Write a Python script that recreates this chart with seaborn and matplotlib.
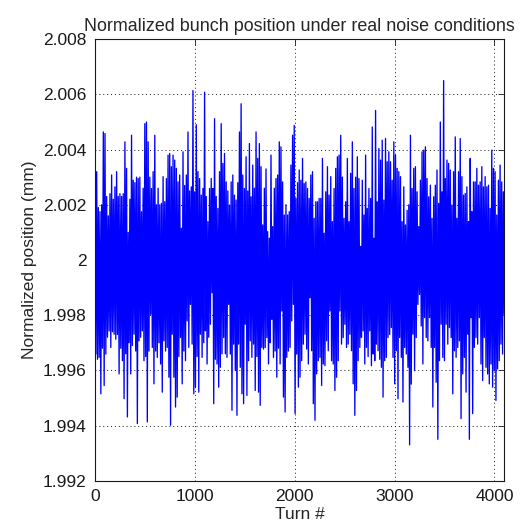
import numpy as np
import pandas as pd
import matplotlib
matplotlib.use("Agg")
import matplotlib.pyplot as plt
import seaborn as sns

# envelope of the trace, offsets from 2 mm in micrometres
# (one upper and one lower reading every ~16.6 turns)
upper_um = [
    # turns 0..650
    3.68, 3.2, 1.9, 1.75, 2.0, 4.64, 4.58, 2.3, 1.6, 2.4, 3.08, 2.2, 2.65, 3.2, 2.3, 2.4, 2.3, 2.4, 4.28, 3.32,
    1.0, 2.2, 4.52, 2.89, 2.8, 3.0, 2.95, 3.0, 1.75, 2.6, 4.94, 5.0, 4.28, 3.0, 2.59, 3.2, 4.52, 2.0, 2.6,
    # turns 650..1350
    2.0, 2.05, 3.02, 2.11, 2.95, 3.8, 3.86, 3.38, 3.8, 3.62, 3.32, 2.83, 3.08, 1.15, 3.92, 2.7, 3.08, 4.64, 2.5, 2.65,
    6.14, 2.47, 4.9, 3.2, 2.95, 2.35, 2.59, 6.08, 2.3, 1.39, 2.59, 2.95, 2.59, 5.12, 2.3, 1.87, 3.2, 4.94, 3.5, 3.86,
    2.83, 2.5,
    # turns 1350..2050
    1.99, 2.83, 3.08, 2.35, 2.17, 2.8, 4.64, 5.66, 3.08, 2.59, 3.74, 2.5, 4.22, 2.29, 3.44, 2.6, 4.64, 3.68, 4.22, 3.38,
    1.27, 2.6, 3.3, 1.03, 0.79, 3.8, 1.21, 2.6, 2.95, 3.08, 4.28, 4.1, 2.83, 1.63, 2.0, 1.63, 1.75, 3.44, 4.52, 4.88,
    2.23, 2.8,
    # turns 2050..2750
    3.26, 2.89, 3.68, 2.77, 2.83, 2.59, 2.23, 3.08, 3.2, 1.51, 2.11, 2.11, 2.23, 2.23, 3.68, 0.97, 2.47, 3.38, 2.35, 3.02,
    1.39, 2.59, 3.32, 3.74, 3.8, 4.52, 3.0, 1.51, 2.11, 3.68, 1.39, 3.14, 4.28, 2.59, 3.0, 3.74, 2.95, 0.49, 2.89, 1.63,
    3.8, 1.87,
    # turns 2750..3450
    2.59, 2.23, 4.82, 0.79, 5.42, 2.11, 4.04, 3.62, 4.34, 2.17, 4.4, 3.56, 3.92, 3.56, 2.89, 4.28, 3.8, 3.32, 3.2, 3.02,
    1.39, 2.65, 1.27, 1.8, 2.0, 4.52, 2.59, 3.32, 3.38, 2.47, 1.21, 2.89, 3.92, 3.98, 4.1, 2.95, 2.29, 2.71, 1.51, 2.29,
    2.71, 3.26,
    # turns 3450..4096
    2.05, 5.0, 2.47, 6.5, 2.95, 3.62, 3.5, 3.26, 1.99, 3.2, 4.46, 1.51, 3.2, 4.4, 3.02, 2.35, 2.41, 2.65, 1.39, 3.68,
    1.75, 2.83, 2.83, 3.32, 2.71, 2.83, 3.38, 2.65, 3.02, 2.65, 2.71, 1.87, 3.98, 3.32, 3.2, 1.63, 2.89, 3.44, 2.83, 2.47,
]
lower_um = [
    -3.41, -3.6, -3.53, -4.85, -3.2, -4.55, -3.41, -2.8, -2.57, -3.17, -2.6, -2.69, -2.87, -2.7, -4.13, -3.2, -3.65, -5.03, -3.4, -5.69,
    -3.0, -4.13, -3.1, -2.69, -3.3, -5.93, -2.93, -2.8, -2.57, -3.65, -3.5, -5.87, -3.3, -1.97, -3.17, -4.49, -3.3, -3.53, -3.0,
    -3.77, -4.79, -2.93, -3.3, -3.17, -4.25, -5.99, -2.69, -4.25, -5.33, -4.97, -3.5, -2.81, -4.49, -3.3, -3.65, -2.21, -3.17, -1.61, -3.05,
    -4.85, -4.61, -3.5, -4.79, -2.69, -3.53, -3.0, -2.57, -3.77, -2.8, -2.33, -1.19, -5.21, -3.6, -3.77, -4.61, -3.89, -3.4, -2.81, -3.4,
    -3.53, -1.61,
    -3.41, -5.45, -3.05, -4.01, -5.63, -3.05, -3.89, -4.85, -5.21, -2.33, -4.91, -3.65, -2.93, -3.53, -3.05, -4.73, -3.5, -4.79, -5.27, -3.17,
    -3.23, -3.17, -2.81, -3.77, -3.0, -2.15, -3.53, -3.3, -4.25, -3.2, -3.77, -1.85, -4.97, -5.51, -3.53, -3.3, -3.17, -2.21, -1.61, -5.57,
    -3.41, -4.61,
    -4.25, -3.65, -3.05, -2.69, -3.23, -3.77, -1.37, -3.29, -5.21, -5.81, -4.13, -3.65, -3.53, -4.55, -3.77, -3.83, -2.93, -3.29, -1.85, -3.65,
    -3.77, -4.73, -4.25, -3.65, -1.85, -3.05, -2.81, -2.33, -3.17, -3.05, -2.69, -3.29, -4.49, -5.63, -4.73, -3.65, -3.17, -2.81, -2.57, -3.77,
    -3.17, -3.5,
    -2.57, -3.83, -3.41, -3.65, -3.05, -3.29, -3.6, -3.89, -4.97, -3.65, -3.53, -2.81, -2.7, -2.45, -3.53, -4.49, -3.29, -5.03, -2.81, -3.53,
    -5.15, -3.17, -3.41, -3.89, -6.7, -4.5, -2.69, -4.01, -2.81, -1.61, -1.25, -2.39, -3.77, -2.09, -2.81, -2.93, -2.09, -3.17, -5.33, -3.17,
    -4.43, -6.5,
    -3.65, -2.33, -3.53, -3.65, -2.33, -3.05, -2.45, -2.81, -4.85, -3.29, -3.53, -3.17, -2.93, -5.75, -4.13, -3.53, -4.79, -2.69, -6.5, -2.09,
    -5.57, -3.17, -2.81, -3.05, -2.09, -3.77, -4.37, -2.81, -3.89, -4.13, -4.49, -3.77, -4.61, -4.01, -5.09, -3.95, -3.65, -3.05, -3.41, -1.97,
]
n_turns = 4096
ytick_vals = [1.992, 1.994, 1.996, 1.998, 2.0, 2.002, 2.004, 2.006, 2.008]
ytick_labels = ["1.992", "1.994", "1.996", "1.998", "2", "2.002", "2.004", "2.006", "2.008"]
xtick_vals = [0, 1000, 2000, 3000, 4000]

# samples: each reading slot gives a high then a low sample
turn = np.linspace(0, n_turns - 6, len(upper_um))
half = (turn[1] - turn[0]) / 2
df = pd.DataFrame({
    "turn": np.column_stack([turn, turn + half]).ravel(),
    "pos": 2.0 + 1e-3 * np.column_stack([upper_um, lower_um]).ravel(),
})

sns.set_theme(style="white")
plt.rcParams["font.family"] = ["Liberation Sans", "DejaVu Sans"]

fig = plt.figure(figsize=(5.25, 5.30), dpi=100)
ax = fig.add_axes([0.181, 0.093, 0.779, 0.833])

sns.lineplot(data=df, x="turn", y="pos", ax=ax, color=(0, 0, 1),
             lw=0.95, estimator=None, sort=False)

ax.set_xlim(0, n_turns)
ax.set_ylim(1.992, 2.008)
ax.set_xticks(xtick_vals)
ax.set_yticks(ytick_vals)
ax.set_yticklabels(ytick_labels)
ax.grid(True, color="k", linestyle=(0, (1, 3)), linewidth=0.7)
ax.tick_params(direction="in", length=4, width=0.6, top=True, right=True,
               labelsize=12.5, pad=6, colors="k")
for s in ax.spines.values():
    s.set_color("k")
    s.set_linewidth(0.8)

ax.set_title("Normalized bunch position under real noise conditions", fontsize=12.9, pad=6)
ax.set_xlabel("Turn #", fontsize=12.5, labelpad=2)
ax.set_ylabel("Normalized position (mm)", fontsize=12.5, labelpad=4)

fig.savefig("out.png", dpi=100)
